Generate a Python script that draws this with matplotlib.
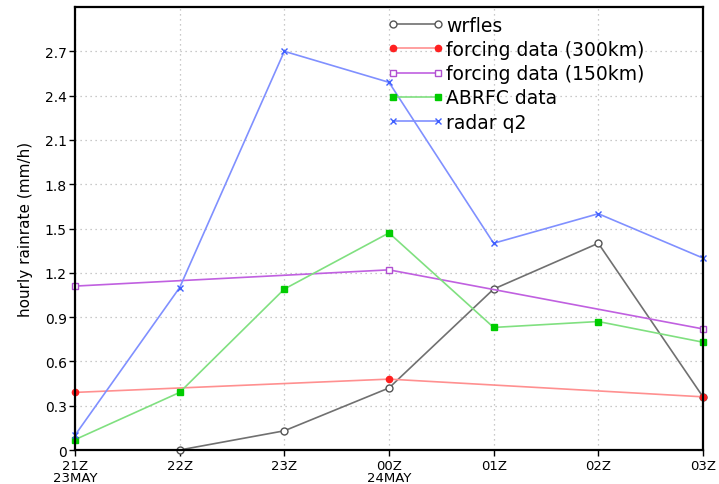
import numpy as np
import matplotlib
matplotlib.use("Agg")
import matplotlib.pyplot as plt

# hourly times, 21Z 23MAY to 03Z 24MAY
hours = [0, 1, 2, 3, 4, 5, 6]
tick_labels = ["21Z\n23MAY", "22Z", "23Z", "00Z\n24MAY", "01Z", "02Z", "03Z"]

# model starts at 22Z
wrfles_hours = [1, 2, 3, 4, 5, 6]
wrfles = [0.0, 0.13, 0.42, 1.09, 1.40, 0.36]

# forcing data only every 3 hours
forcing_hours = [0, 3, 6]
forcing_300 = [0.39, 0.48, 0.36]
forcing_150 = [1.11, 1.22, 0.82]

abrfc = [0.07, 0.39, 1.09, 1.47, 0.83, 0.87, 0.73]
radar_q2 = [0.10, 1.10, 2.70, 2.49, 1.40, 1.60, 1.30]

fig = plt.figure(figsize=(7.19, 4.85), dpi=100)
ax = fig.add_axes([0.1043, 0.0701, 0.8734, 0.9134])

ax.plot(wrfles_hours, wrfles, color="#707070", lw=1.2, marker="o", ms=5,
        mfc="white", mec="#555555", mew=1.0, label="wrfles", clip_on=False)
ax.plot(forcing_hours, forcing_300, color="#ff9090", lw=1.2, marker="o", ms=4.5,
        mfc="#ff2020", mec="#ff2020", label="forcing data (300km)", clip_on=False)
ax.plot(forcing_hours, forcing_150, color="#c060e0", lw=1.2, marker="s", ms=5,
        mfc="white", mec="#b050d0", mew=1.0, label="forcing data (150km)", clip_on=False)
ax.plot(hours, abrfc, color="#80e080", lw=1.2, marker="s", ms=5,
        mfc="#00cc00", mec="#00cc00", label="ABRFC data", clip_on=False)
ax.plot(hours, radar_q2, color="#8090ff", lw=1.2, marker="x", ms=4,
        mec="#4060ff", mew=1.0, label="radar q2", clip_on=False)

ax.set_xticks(hours)
ax.set_xticklabels(tick_labels, fontsize=9.5, linespacing=0.85)
ax.set_yticks(np.arange(0, 2.71, 0.3))
ax.set_yticklabels(["0"] + ["%.1f" % v for v in np.arange(0.3, 2.71, 0.3)], fontsize=10)
ax.set_xlim(0, 6)
ax.set_ylim(0, 3.0)
ax.set_ylabel("hourly rainrate (mm/h)", fontsize=11, labelpad=8)
ax.grid(True, color="#b8b8b8", linestyle=(0, (1, 3)), lw=0.9)
for s in ax.spines.values():
    s.set_linewidth(1.6)
ax.tick_params(direction="out", length=4, width=1.0, pad=2)
ax.tick_params(axis="x", pad=2.5)

ax.legend(loc="upper left", bbox_to_anchor=(0.476, 1.01), frameon=False, numpoints=2,
          handlelength=3.0, handletextpad=0.15, labelspacing=0.28, fontsize=13.5,
          borderaxespad=0.3)

fig.savefig("out.png", dpi=100)
